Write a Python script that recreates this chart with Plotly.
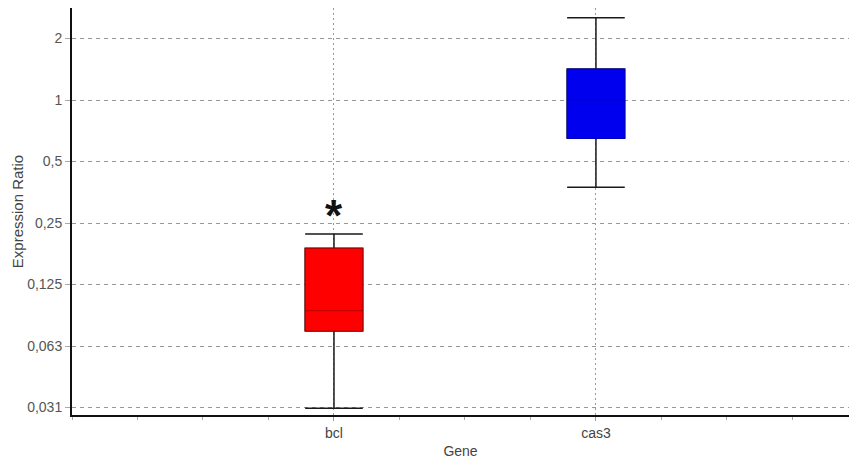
import math
import plotly.graph_objects as go

# Relative expression ratios per gene (box summary statistics)
genes = ["bcl", "cas3"]
gene_pos = [0, 1]
lower_whisker = [0.031, 0.374]
q1_vals = [0.074, 0.649]
median_vals = [0.093, 1.0]
q3_vals = [0.188, 1.418]
upper_whisker = [0.221, 2.53]
box_colors = ["#ff0000", "#0000ee"]
edge_colors = ["#b00000", "#0000cc"]

y_tick_vals = [2 ** k for k in range(-5, 2)]
y_tick_text = ["0,031", "0,063", "0,125", "0,25", "0,5", "1", "2"]
significance = ["*", ""]

fig = go.Figure()

for i, g in enumerate(genes):
    # whiskers and caps in black
    fig.add_trace(go.Box(
        x=[gene_pos[i]], q1=[q1_vals[i]], median=[median_vals[i]], q3=[q3_vals[i]],
        lowerfence=[lower_whisker[i]], upperfence=[upper_whisker[i]],
        width=0.22, whiskerwidth=1, fillcolor=box_colors[i],
        line=dict(color="#1a1a1a", width=1.5), showlegend=False, hoverinfo="skip",
    ))
    # coloured box body on top
    fig.add_trace(go.Box(
        x=[gene_pos[i]], q1=[q1_vals[i]], median=[median_vals[i]], q3=[q3_vals[i]],
        lowerfence=[q1_vals[i]], upperfence=[q3_vals[i]],
        width=0.22, whiskerwidth=0, fillcolor=box_colors[i],
        line=dict(color=edge_colors[i], width=1), showlegend=False, name=g,
    ))
    if significance[i]:
        fig.add_annotation(
            x=gene_pos[i], y=math.log10(upper_whisker[i]), text="<b>" + significance[i] + "</b>",
            showarrow=False, yshift=-8, yanchor="bottom",
            font=dict(size=44, color="#111111", family="Liberation Sans"),
        )

fig.update_layout(
    width=849, height=465,
    margin=dict(l=72, r=0, t=8, b=50),
    paper_bgcolor="white", plot_bgcolor="white",
    font=dict(family="Liberation Sans, Arial, sans-serif", size=13, color="#444444"),
    boxmode="overlay",
)

fig.update_xaxes(
    range=[-1, 1.966],
    tickvals=gene_pos, ticktext=genes,
    showline=True, linecolor="#111111", linewidth=2,
    ticks="outside", ticklen=4, tickcolor="#999999",
    showgrid=True, gridcolor="#999999", griddash="2px,3px", gridwidth=1,
    zeroline=False,
    minor=dict(dtick=0.25, tick0=0, ticks="outside", ticklen=3, tickcolor="#aaaaaa", showgrid=False),
    title=dict(text="Gene", standoff=6, font=dict(size=14, color="#444444")),
    tickfont=dict(size=14, color="#444444"),
)

fig.update_yaxes(
    type="log",
    range=[math.log10(2 ** -5.122), math.log10(2 ** 1.496)],
    tickvals=y_tick_vals, ticktext=y_tick_text,
    showline=True, linecolor="#111111", linewidth=2,
    ticks="outside", ticklen=5, tickcolor="#aaaaaa",
    showgrid=True, gridcolor="#999999", griddash="4px,4px", gridwidth=1,
    zeroline=False,
    title=dict(text="Expression Ratio", standoff=0, font=dict(size=15, color="#444444")),
    tickfont=dict(size=14, color="#555555"),
)

fig.write_html("out.html")
